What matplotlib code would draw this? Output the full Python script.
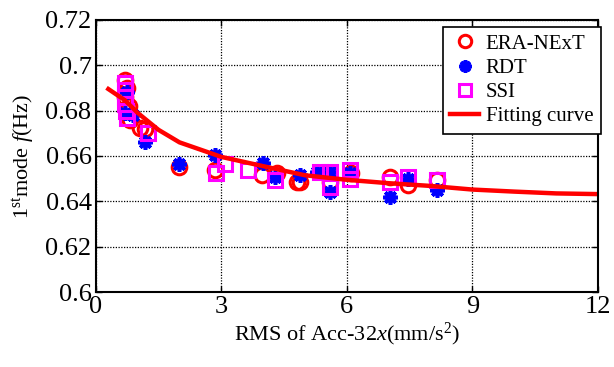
"""
1st mode frequency vs. RMS of Acc-32x, three identification methods
plus the fitted curve
"""

import matplotlib
matplotlib.use("Agg")
from matplotlib import pyplot as plt

# ERA-NExT
era_x = [0.7, 0.75, 0.7, 0.8, 0.81, 1.05, 1.17, 2.0, 2.85, 3.97, 4.33, 4.8, 4.88,
         5.6, 6.1, 7.03, 7.46, 8.15]
era_y = [0.6935, 0.690, 0.686, 0.682, 0.676, 0.6723, 0.672, 0.655, 0.654, 0.6516,
         0.6525, 0.6485, 0.6485, 0.6485, 0.6525, 0.6507, 0.647, 0.6494]

# RDT
rdt_x = [0.7, 0.75, 0.9, 1.17, 2.0, 2.85, 4.0, 4.28, 4.88, 5.28, 5.6, 5.6, 6.07,
         7.03, 7.46, 8.15]
rdt_y = [0.679, 0.688, 0.678, 0.666, 0.6565, 0.6604, 0.657, 0.6507, 0.6516, 0.653,
         0.653, 0.644, 0.6525, 0.642, 0.650, 0.645]

# SSI
ssi_x = [0.7, 0.7, 0.7, 0.7, 0.72, 0.74, 1.25, 2.87, 3.08, 3.64, 4.28, 5.35, 5.6,
         5.6, 6.07, 6.07, 7.03, 7.46, 8.15]
ssi_y = [0.692, 0.689, 0.686, 0.683, 0.680, 0.6767, 0.670, 0.6525, 0.6565, 0.654,
         0.6494, 0.653, 0.653, 0.6463, 0.654, 0.650, 0.6485, 0.6507, 0.6494]

# fitting curve
fit_x = [0.3, 0.7, 1.0, 1.5, 2.0, 3.0, 4.0, 5.0, 6.0, 7.0, 8.0, 9.0, 10.0, 11.0, 12.0]
fit_y = [0.6895, 0.6845, 0.679, 0.6715, 0.666, 0.6596, 0.6555, 0.6515, 0.6495,
         0.648, 0.6468, 0.6452, 0.6443, 0.6435, 0.6432]

plt.rcParams["font.family"] = ["Liberation Serif", "DejaVu Serif"]
plt.rcParams["mathtext.fontset"] = "custom"
plt.rcParams["mathtext.rm"] = "Liberation Serif"
plt.rcParams["mathtext.it"] = "Liberation Serif:italic"

fig = plt.figure(figsize=(6.14, 3.67), dpi=100)
ax = fig.add_axes([0.156, 0.204, 0.818, 0.742])

ax.plot(era_x, era_y, linestyle="none", marker="o", markersize=10.5,
        markerfacecolor="none", markeredgecolor="red", markeredgewidth=2.2,
        label="ERA-NExT")
ax.plot(rdt_x, rdt_y, linestyle="none", marker=(8, 2, 0), markersize=10.5,
        color="blue", markeredgewidth=2.6, label="RDT")
ax.plot(ssi_x, ssi_y, linestyle="none", marker="s", markersize=10.5,
        markerfacecolor="none", markeredgecolor="magenta", markeredgewidth=2.2,
        label="SSI")
ax.plot(fit_x, fit_y, color="red", linewidth=3.2, label="Fitting curve")

ax.set_xlim(0, 12)
ax.set_ylim(0.6, 0.72)
ax.set_xticks([0, 3, 6, 9, 12])
ax.set_yticks([0.6, 0.62, 0.64, 0.66, 0.68, 0.7, 0.72])
ax.set_yticklabels(["0.6", "0.62", "0.64", "0.66", "0.68", "0.7", "0.72"])
ax.grid(True, color="black", linestyle=(0, (1, 1.2)), linewidth=0.9)
ax.tick_params(direction="in", top=True, right=True, labelsize=19,
               length=4, width=1, pad=3)
for s in ax.spines.values():
    s.set_linewidth(1.5)

ax.set_xlabel("RMS of Acc-32$x$(mm/s$^2$)", fontsize=16, labelpad=2)
ax.set_ylabel("1$^{\\rm st}$mode $f$(Hz)", fontsize=16, labelpad=6)

leg = ax.legend(loc="upper right", bbox_to_anchor=(1.005, 0.974), fontsize=15,
                borderaxespad=0, fancybox=False, framealpha=1, edgecolor="black",
                handlelength=1.4, handletextpad=0.3, labelspacing=0.22,
                borderpad=0.35, markerscale=0.85)
leg.get_frame().set_linewidth(1.2)

plt.savefig("out.png", dpi=100)
plt.close()
